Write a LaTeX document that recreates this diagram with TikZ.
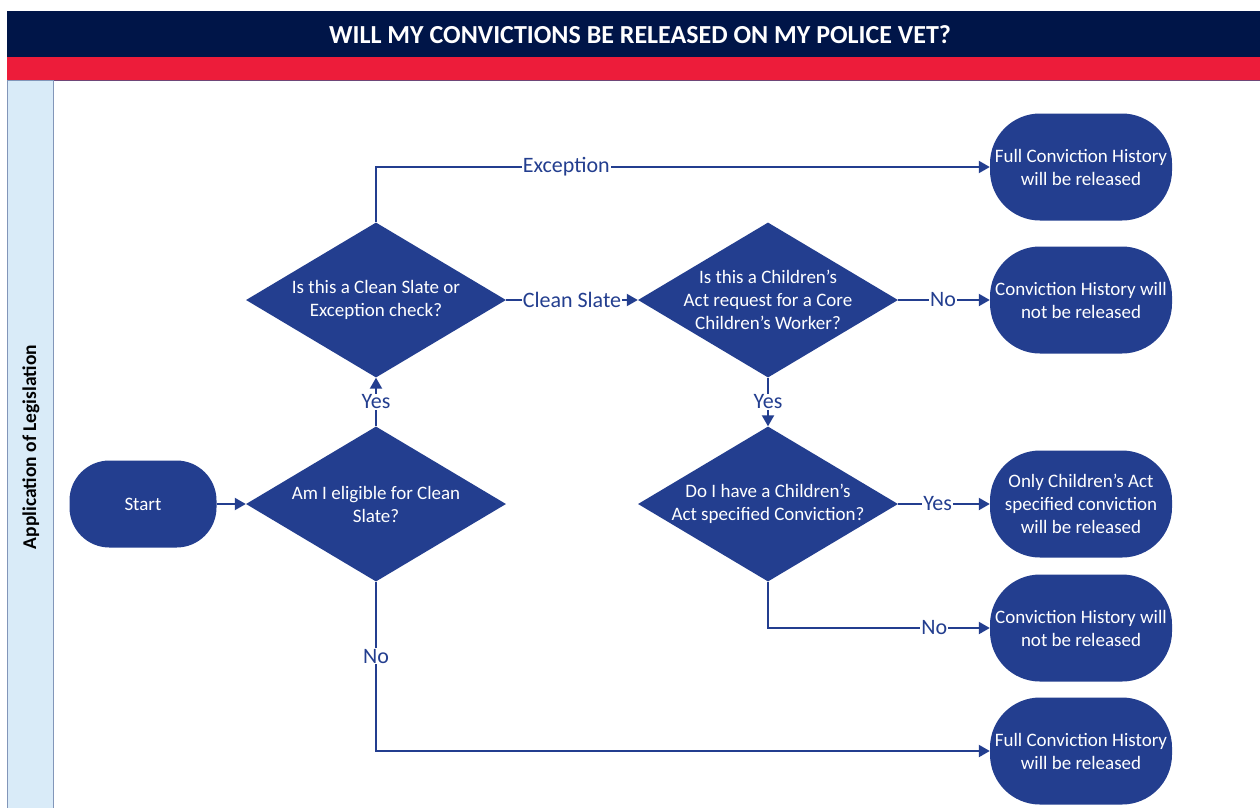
\documentclass[tikz,border=0pt]{standalone}
\usepackage{fontspec}
\setmainfont{Carlito}
\usetikzlibrary{shapes.geometric,arrows.meta}
\definecolor{nodeblue}{RGB}{35,62,143}
\definecolor{navyhead}{RGB}{0,21,72}
\definecolor{redband}{RGB}{237,28,58}
\definecolor{lanefill}{RGB}{217,235,248}
\definecolor{laneborder}{RGB}{130,150,185}
\definecolor{bandline}{RGB}{110,70,120}
\tikzset{
 term/.style={fill=nodeblue, text=white, rounded corners=50pt, minimum width=182pt, minimum height=107pt, inner sep=0pt, align=center, font=\fontsize{19}{23}\selectfont},
 startbox/.style={fill=nodeblue, text=white, rounded corners=40pt, minimum width=147pt, minimum height=87pt, inner sep=0pt, align=center, font=\fontsize{19}{23}\selectfont},
 dec/.style={diamond, fill=nodeblue, minimum width=260pt, minimum height=155pt, inner sep=0pt, aspect=1.68},
 dectext/.style={text=white, align=center, inner sep=0pt, font=\fontsize{19}{23}\selectfont},
 conn/.style={draw=nodeblue, line width=2pt, -{Triangle[length=11pt,width=12pt]}},
 lbl/.style={fill=white, text=nodeblue, inner sep=1pt, font=\fontsize{22}{26}\selectfont},
}
\begin{document}
\begin{tikzpicture}[x=1pt,y=-1pt]
\useasboundingbox (0,0) rectangle (1260,807);
\fill[white] (0,0) rectangle (1260,807);
% header
\fill[navyhead] (7,11) rectangle (1260,57);
\fill[redband] (7,57) rectangle (1260,80);
\draw[bandline, line width=1pt] (7,80) -- (1260,80);
\node[text=white, font=\fontsize{26}{30}\selectfont\bfseries] (title) at (640,35) {WILL MY CONVICTIONS BE RELEASED ON MY POLICE VET?};
% lane
\filldraw[fill=lanefill, draw=laneborder, line width=1pt] (7,80.5) rectangle (53,812);
\node[rotate=90, text=black, font=\fontsize{19.5}{23}\selectfont\bfseries] (lane) at (31,447) {Application of Legislation};
% nodes
\node[startbox] (start) at (143,504) {Start};
\node[dec, label={[dectext]center:Am I eligible for Clean\\Slate?}] (d1) at (376,504) {};
\node[dec, label={[dectext]center:Is this a Clean Slate or\\Exception check?}] (d2) at (376,300) {};
\node[dec, label={[dectext]center:Is this a Children’s\\Act request for a Core\\Children’s Worker?}] (d3) at (768,300) {};
\node[dec, label={[dectext]center:Do I have a Children’s\\Act specified Conviction?}] (d4) at (768,504) {};
\node[term] (t1) at (1081,167) {Full Conviction History\\will be released};
\node[term] (t2) at (1081,300) {Conviction History will\\not be released};
\node[term] (t3) at (1081,504) {Only Children’s Act\\specified conviction\\will be released};
\node[term] (t4) at (1081,628) {Conviction History will\\not be released};
\node[term] (t5) at (1081,751) {Full Conviction History\\will be released};
% connectors
\draw[conn] (start.east) -- (d1.west);
\draw[conn] (d1.north) -- node[lbl, pos=0.5] (lyes1) {Yes} (d2.south);
\draw[conn] (d2.east) -- node[lbl, pos=0.5] (lclean) {Clean Slate} (d3.west);
\draw[conn] (d2.north) |- node[lbl, pos=0.655] (lexc) {Exception} (t1.west);
\draw[conn] (d3.east) -- node[lbl, pos=0.49] (lno1) {No} (t2.west);
\draw[conn] (d3.south) -- node[lbl, pos=0.5] (lyes2) {Yes} (d4.north);
\draw[conn] (d4.east) -- node[lbl, pos=0.43] (lyes3) {Yes} (t3.west);
\draw[conn] (d4.south) |- node[lbl, pos=0.875] (lno2) {No} (t4.west);
\draw[conn] (d1.south) |- node[lbl, pos=0.22] (lno3) {No} (t5.west);
\end{tikzpicture}
\end{document}
